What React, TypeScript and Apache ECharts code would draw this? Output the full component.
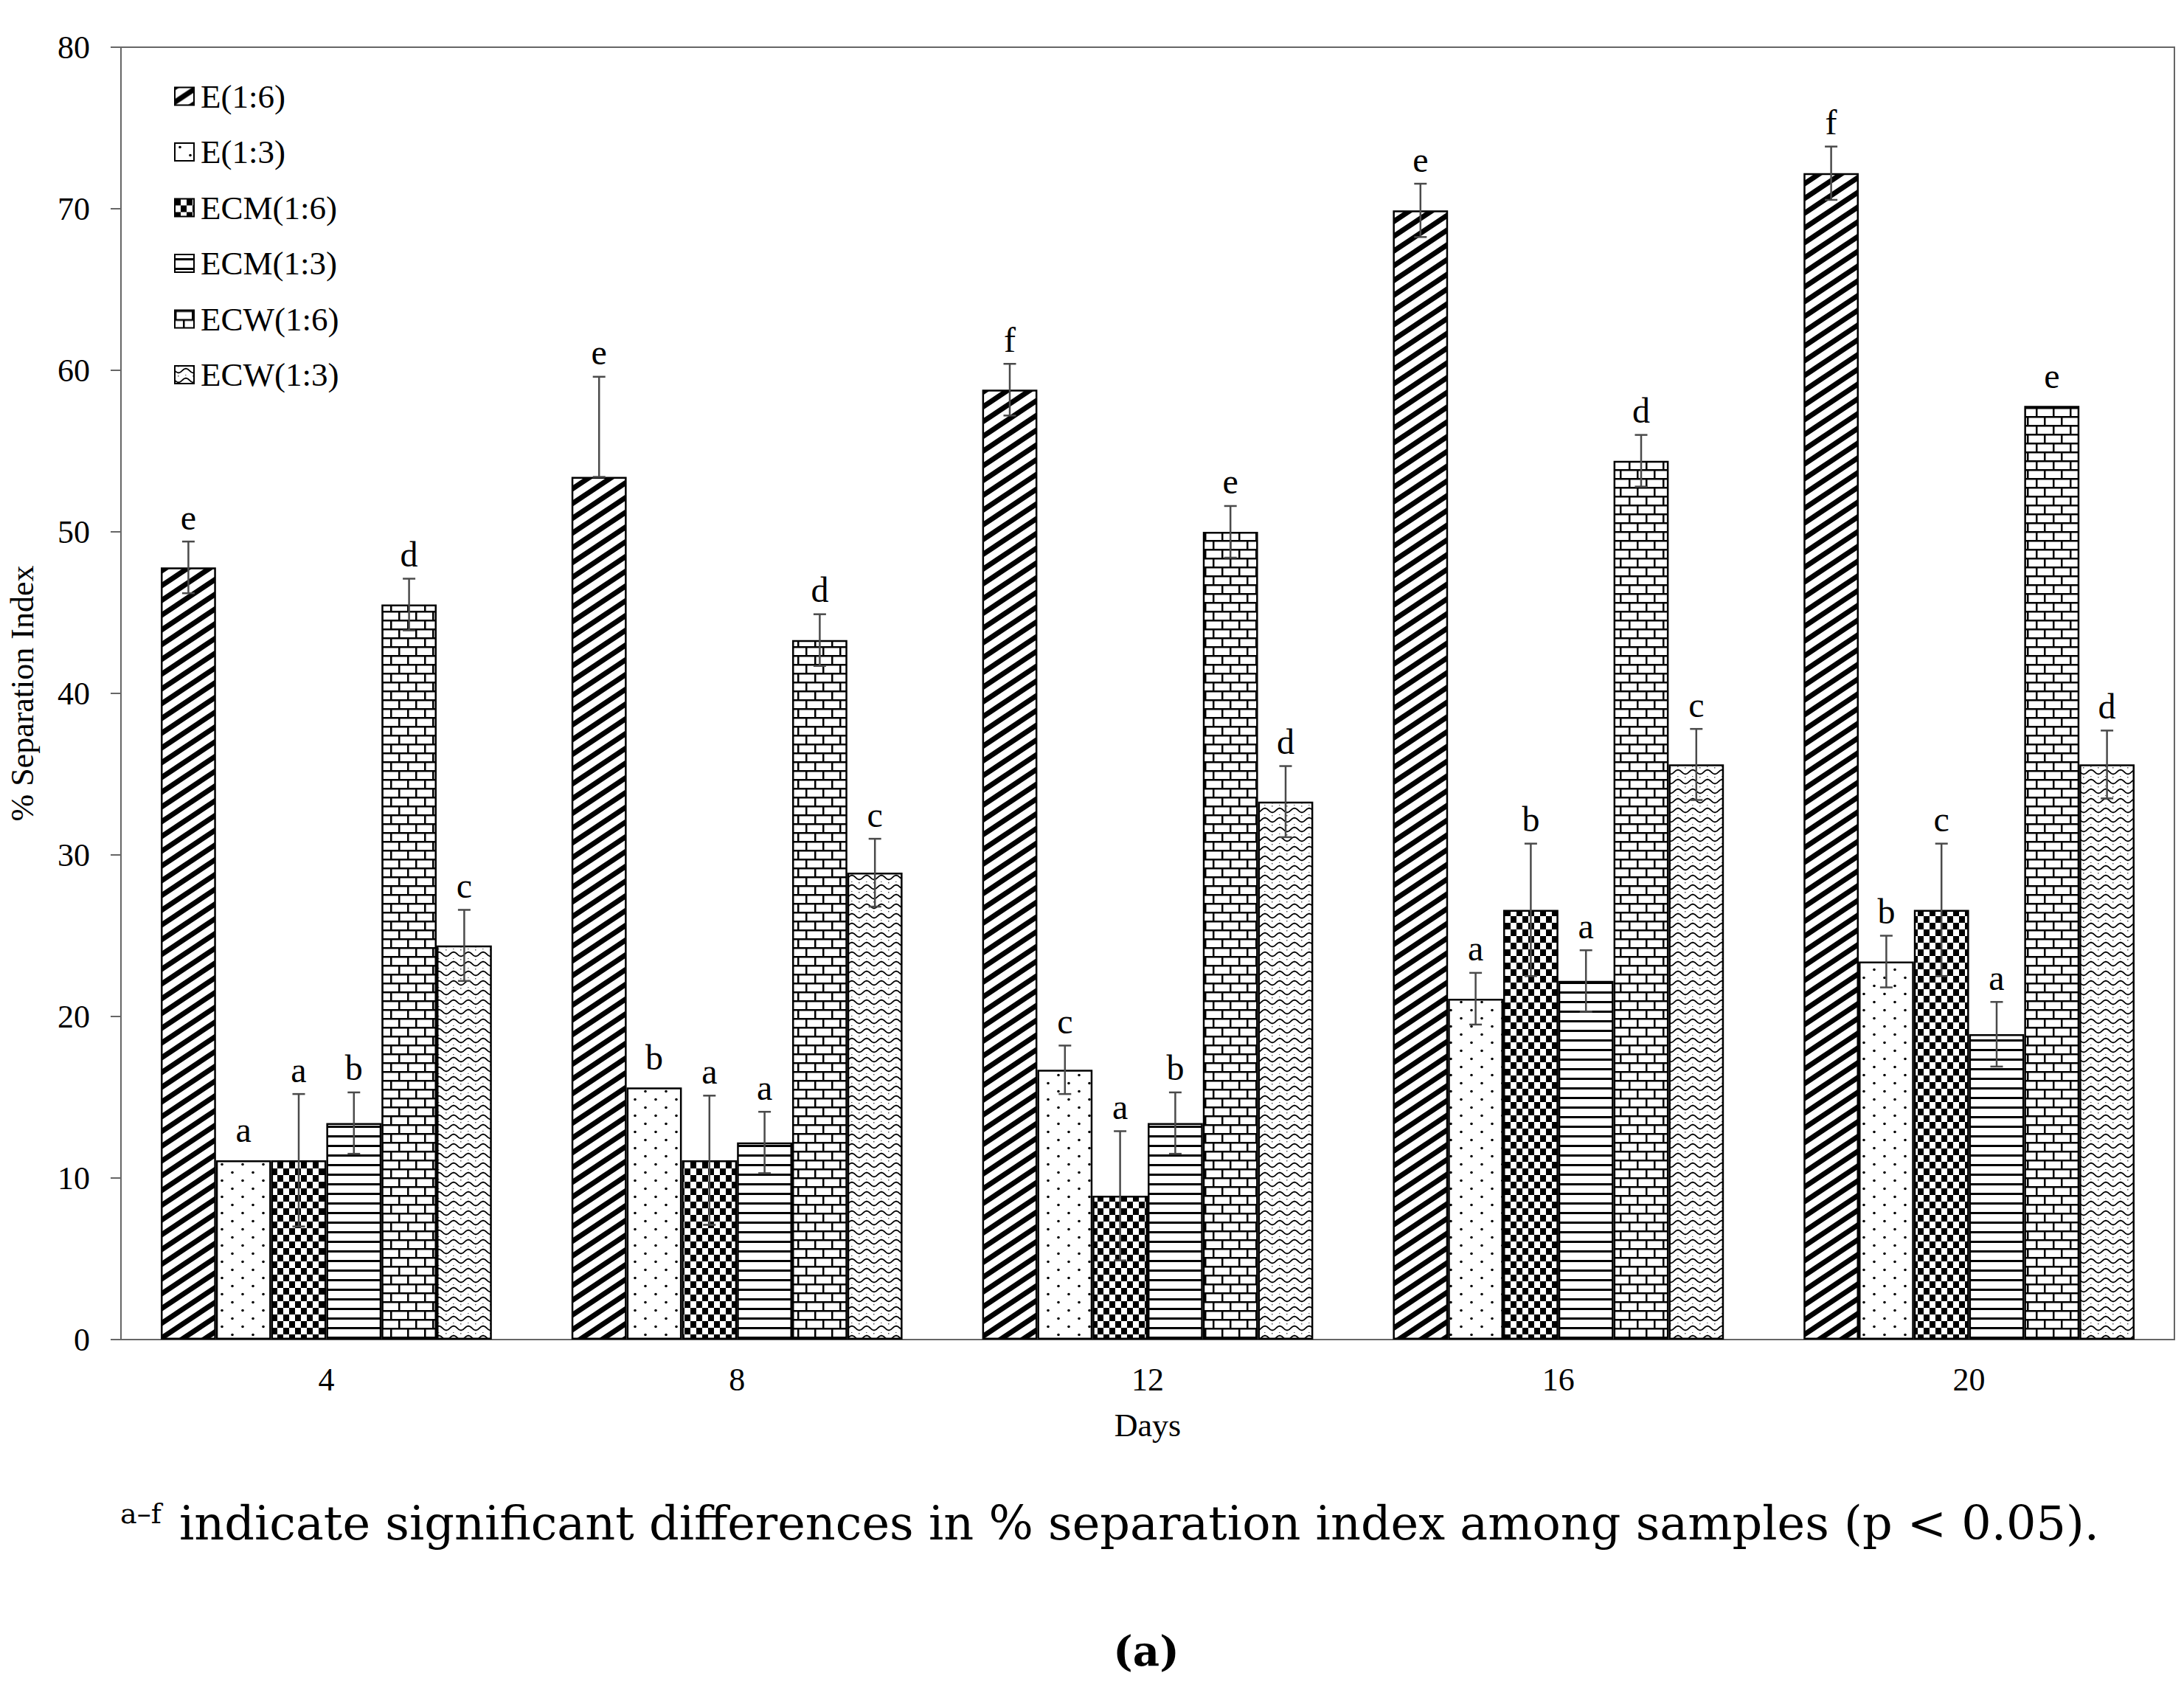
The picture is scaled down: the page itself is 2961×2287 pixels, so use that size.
import React, { useEffect, useRef } from 'react';
import * as echarts from 'echarts';

const days = ['4', '8', '12', '16', '20'];
const seriesNames = ['E(1:6)', 'E(1:3)', 'ECM(1:6)', 'ECM(1:3)', 'ECW(1:6)', 'ECW(1:3)'];

const valE16 = [47.8, 53.4, 58.8, 69.9, 72.2];
const valE13 = [11.1, 15.6, 16.7, 21.1, 23.4];
const valECM16 = [11.1, 11.1, 8.9, 26.6, 26.6];
const valECM13 = [13.4, 12.2, 13.4, 22.2, 18.9];
const valECW16 = [45.5, 43.3, 50.0, 54.4, 57.8];
const valECW13 = [24.4, 28.9, 33.3, 35.6, 35.6];

const errUpE16 = [1.6, 6.2, 1.6, 1.65, 1.65];
const errDownE16 = [1.6, 0, 1.6, 1.65, 1.65];
const errE13 = [0, 0, 1.5, 1.6, 1.6];
const errECM16 = [4.1, 4.0, 4.0, 4.1, 4.1];
const errECM13 = [1.9, 1.9, 1.9, 1.9, 2.0];
const errECW16 = [1.6, 1.6, 1.6, 1.6, 0];
const errECW13 = [2.2, 2.1, 2.2, 2.2, 2.1];

const letE16 = ['e', 'e', 'f', 'e', 'f'];
const letE13 = ['a', 'b', 'c', 'a', 'b'];
const letECM16 = ['a', 'a', 'a', 'b', 'c'];
const letECM13 = ['b', 'a', 'b', 'a', 'a'];
const letECW16 = ['d', 'd', 'e', 'd', 'e'];
const letECW13 = ['c', 'c', 'd', 'c', 'd'];

const yTicks = { min: 0, max: 80, interval: 10 };

const captionSup = 'a–f';
const captionMain = 'indicate significant differences in % separation index among samples (p < 0.05).';
const panelLabel = '(a)';

const FONT = '"Liberation Serif", "Times New Roman", serif';
const CAP_FONT = '"DejaVu Serif", serif';
const BAR_CAT_GAP = 0.194;

function tile(w: number, h: number, draw: (ctx: CanvasRenderingContext2D, w: number, h: number) => void) {
  const c = document.createElement('canvas');
  c.width = w;
  c.height = h;
  const ctx = c.getContext('2d') as CanvasRenderingContext2D;
  ctx.fillStyle = '#fff';
  ctx.fillRect(0, 0, w, h);
  ctx.fillStyle = '#000';
  ctx.strokeStyle = '#000';
  draw(ctx, w, h);
  return { image: c, repeat: 'repeat', imageWidth: w, imageHeight: h } as any;
}

function makePatterns() {
  const diag = tile(30, 20, (ctx, w, h) => {
    ctx.lineWidth = 7;
    for (const dy of [-h, 0, h]) {
      ctx.beginPath();
      ctx.moveTo(-w, 2 * h + dy);
      ctx.lineTo(2 * w, -h + dy);
      ctx.stroke();
    }
  });
  const dots = tile(28, 22, (ctx) => {
    ctx.beginPath();
    ctx.arc(7, 5.5, 1.8, 0, Math.PI * 2);
    ctx.fill();
    ctx.beginPath();
    ctx.arc(21, 16.5, 1.8, 0, Math.PI * 2);
    ctx.fill();
  });
  const checker = tile(16, 18, (ctx) => {
    ctx.fillRect(0, 0, 8, 9);
    ctx.fillRect(8, 9, 8, 9);
  });
  const hlines = tile(8, 13, (ctx) => {
    ctx.fillRect(0, 5, 8, 3);
  });
  const bricks = tile(46, 24, (ctx) => {
    ctx.fillRect(0, 0, 46, 2.5);
    ctx.fillRect(0, 12, 46, 2.5);
    ctx.fillRect(0, 0, 2.5, 12);
    ctx.fillRect(23, 0, 2.5, 12);
    ctx.fillRect(11, 12, 2.5, 12);
    ctx.fillRect(34, 12, 2.5, 12);
  });
  const waves = tile(20, 13, (ctx) => {
    ctx.lineWidth = 1.8;
    ctx.beginPath();
    for (let x = -1; x <= 21; x += 0.5) {
      const y = 6.5 + 2.8 * Math.sin((2 * Math.PI * x) / 20);
      if (x === -1) ctx.moveTo(x, y);
      else ctx.lineTo(x, y);
    }
    ctx.stroke();
    ctx.fillStyle = '#555';
    ctx.fillRect(4, 0, 1.5, 1.5);
    ctx.fillRect(14, 12, 1.5, 1.5);
  });
  return [diag, dots, checker, hlines, bricks, waves];
}

export default function App() {
  const ref = useRef<HTMLDivElement>(null);

  useEffect(() => {
    document.body.style.margin = '0';
    const chart = echarts.init(ref.current as HTMLDivElement, null, { renderer: 'svg' });
    const patterns = makePatterns();

    const values = [valE16, valE13, valECM16, valECM13, valECW16, valECW13];
    const upErr = [errUpE16, errE13, errECM16, errECM13, errECW16, errECW13];
    const downErr = [errDownE16, errE13, errECM16, errECM13, errECW16, errECW13];
    const letters = [letE16, letE13, letECM16, letECM13, letECW16, letECW13];

    const errItems: { c: number; s: number; v: number; up: number; down: number; l: string }[] = [];
    for (let s = 0; s < 6; s++) {
      for (let c = 0; c < days.length; c++) {
        errItems.push({ c, s, v: values[s][c], up: upErr[s][c], down: downErr[s][c], l: letters[s][c] });
      }
    }

    const barSeries = seriesNames.map((name, i) => ({
      name,
      type: 'bar',
      data: values[i],
      barGap: '0%',
      barCategoryGap: (BAR_CAT_GAP * 100).toFixed(1) + '%',
      itemStyle: { color: patterns[i], borderColor: '#000', borderWidth: 2.5 },
      emphasis: { disabled: true },
      z: 2,
    }));

    const errSeries = {
      type: 'custom',
      z: 5,
      silent: true,
      data: errItems.map((d) => [d.c, d.v]),
      encode: { x: 0, y: 1 },
      renderItem: (params: any, api: any) => {
        const it = errItems[params.dataIndex];
        const center = api.coord([it.c, it.v]);
        const band = api.size([1, 0])[0];
        const barW = (band * (1 - BAR_CAT_GAP)) / 6;
        const x = center[0] + (it.s - 2.5) * barW;
        const children: any[] = [];
        let labelY: number;
        const ls = { stroke: '#4a4a4a', lineWidth: 2.5 };
        if (it.up > 0 || it.down > 0) {
          const yTop = api.coord([it.c, it.v + it.up])[1];
          const yBot = api.coord([it.c, it.v - it.down])[1];
          children.push({ type: 'line', shape: { x1: x, y1: yTop, x2: x, y2: yBot }, style: ls });
          children.push({ type: 'line', shape: { x1: x - 8.5, y1: yTop, x2: x + 8.5, y2: yTop }, style: ls });
          children.push({ type: 'line', shape: { x1: x - 8.5, y1: yBot, x2: x + 8.5, y2: yBot }, style: ls });
          labelY = yTop - 33;
        } else {
          labelY = center[1] - 41;
        }
        children.push({
          type: 'text',
          style: {
            text: it.l,
            x,
            y: labelY,
            align: 'center',
            verticalAlign: 'middle',
            fontSize: 48,
            fontFamily: FONT,
            fill: '#000',
          },
        });
        return { type: 'group', children };
      },
    };

    chart.setOption({
      animation: false,
      backgroundColor: '#fff',
      grid: {
        left: 161,
        right: 13,
        top: 64,
        bottom: 471,
        show: true,
        borderColor: '#666',
        borderWidth: 2,
        backgroundColor: 'transparent',
      },
      legend: {
        data: seriesNames,
        orient: 'vertical',
        left: 231,
        top: 103,
        itemWidth: 26,
        itemHeight: 24,
        itemGap: 30.5,
        icon: 'rect',
        selectedMode: false,
        textStyle: { fontFamily: FONT, fontSize: 45, color: '#000', lineHeight: 44, padding: [0, 0, 0, 4] },
      },
      xAxis: {
        type: 'category',
        data: days,
        axisLine: { lineStyle: { color: '#666', width: 2 } },
        axisTick: { show: false },
        axisLabel: { margin: 32, fontFamily: FONT, fontSize: 44, color: '#000' },
        name: 'Days',
        nameLocation: 'middle',
        nameGap: 94,
        nameTextStyle: { fontFamily: FONT, fontSize: 44, color: '#000' },
      },
      yAxis: {
        type: 'value',
        min: yTicks.min,
        max: yTicks.max,
        interval: yTicks.interval,
        axisLine: { show: true, lineStyle: { color: '#666', width: 2 } },
        axisTick: { show: true, inside: false, length: 14, lineStyle: { color: '#666', width: 2 } },
        axisLabel: { margin: 42, fontFamily: FONT, fontSize: 44, color: '#000' },
        splitLine: { show: false },
        name: '% Separation Index',
        nameLocation: 'middle',
        nameGap: 112,
        nameTextStyle: { fontFamily: FONT, fontSize: 44, color: '#000' },
      },
      series: [...barSeries, errSeries],
      graphic: [
        {
          type: 'text',
          x: 163,
          y: 2052,
          style: { text: captionSup, fontFamily: CAP_FONT, fontSize: 38, fill: '#000', align: 'left', verticalAlign: 'middle' },
        },
        {
          type: 'text',
          x: 243,
          y: 2065,
          style: { text: captionMain, fontFamily: CAP_FONT, fontSize: 63.6, fill: '#000', align: 'left', verticalAlign: 'middle' },
        },
        {
          type: 'text',
          x: 1554,
          y: 2238,
          style: { text: panelLabel, fontFamily: CAP_FONT, fontSize: 56, fontWeight: 'bold', fill: '#000', align: 'center', verticalAlign: 'middle' },
        },
      ],
    });

    return () => {
      chart.dispose();
    };
  }, []);

  return <div ref={ref} style={{ width: 2961, height: 2287 }} />;
}
